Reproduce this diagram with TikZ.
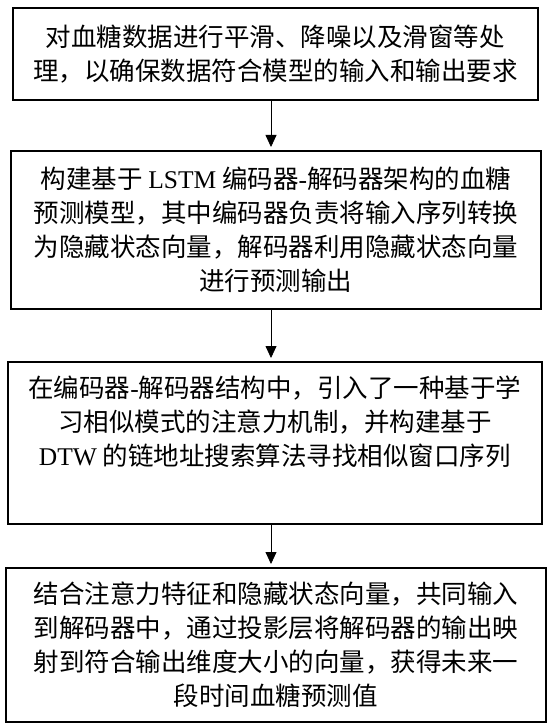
\documentclass[tikz,border=0pt]{standalone}
\usepackage{fontspec}
\setmainfont{Noto Sans CJK SC}
\newfontfamily\lat{Liberation Serif}
\usetikzlibrary{arrows.meta}
\newcommand\bxc[4]{\parbox[c][#2][#3]{#1}{\centering\fontsize{25.5}{34}\selectfont #4}}
\begin{document}
\begin{tikzpicture}[x=1pt,y=-1pt,
  stepbox/.style={draw, line width=1.6pt, inner sep=0pt, anchor=north west},
  conn/.style={line width=0.8pt, shorten >=3pt, -{Triangle[width=11pt,length=12pt]}}]
\useasboundingbox (0,0) rectangle (550,727);
\node[stepbox] (b1) at (12,7) {\bxc{525pt}{92pt}{c}{对血糖数据进行平滑、降噪以及滑窗等处\\理，以确保数据符合模型的输入和输出要求}};
\node[stepbox] (b2) at (10,150) {\bxc{530pt}{158pt}{c}{构建基于 {\lat LSTM} 编码器{\lat -}解码器架构的血糖\\预测模型，其中编码器负责将输入序列转换\\为隐藏状态向量，解码器利用隐藏状态向量\\进行预测输出}};
\node[stepbox] (b3) at (7,361) {\parbox[c][162pt][t]{534pt}{\vspace*{14pt}\centering\fontsize{25.5}{34}\selectfont 在编码器{\lat -}解码器结构中，引入了一种基于学\\习相似模式的注意力机制，并构建基于\\{\lat DTW} 的链地址搜索算法寻找相似窗口序列}};
\node[stepbox] (b4) at (5,567) {\bxc{540pt}{154pt}{c}{结合注意力特征和隐藏状态向量，共同输入\\到解码器中，通过投影层将解码器的输出映\\射到符合输出维度大小的向量，获得未来一\\段时间血糖预测值}};
\coordinate (ax) at (271,0);
\draw[conn] (b1.south -| ax) -- (b2.north -| ax);
\draw[conn] (b2.south -| ax) -- (b3.north -| ax);
\draw[conn] (b3.south -| ax) -- (b4.north -| ax);
\end{tikzpicture}
\end{document}
